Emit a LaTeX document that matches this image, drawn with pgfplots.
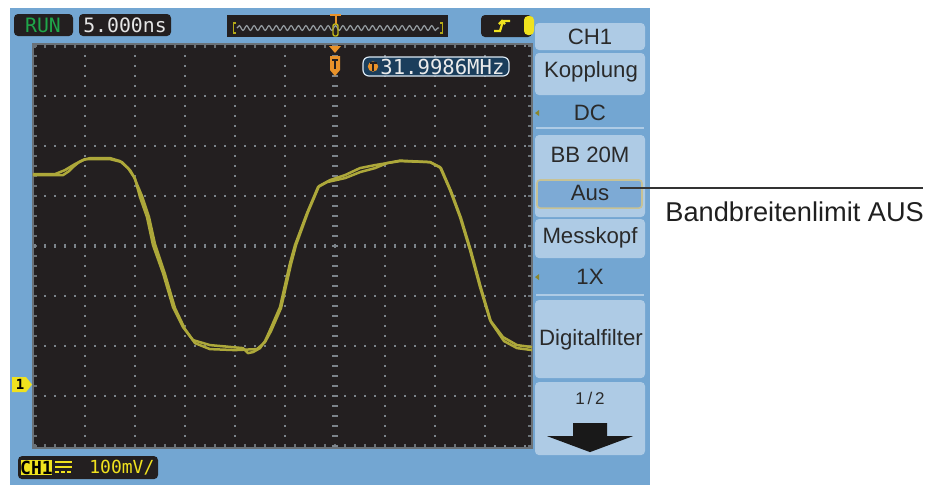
\documentclass[border=0pt]{standalone}
\usepackage{pgfplots}
\pgfplotsset{compat=1.18}
\usepackage{fontspec}
\setmainfont{Liberation Sans}
\newfontfamily\monofont{DejaVu Sans Mono}
\usetikzlibrary{decorations.pathmorphing}
\definecolor{scopeblue}{HTML}{73A6D2}
\definecolor{btnblue}{HTML}{AECBE5}
\definecolor{screenblack}{HTML}{231F20}
\definecolor{gridgray}{HTML}{7C848B}
\definecolor{edgegray}{HTML}{6A7177}
\definecolor{tracecol}{HTML}{ADA83A}
\definecolor{ryellow}{HTML}{F0E21E}
\definecolor{morange}{HTML}{E8922A}
\definecolor{rungreen}{HTML}{1FA64A}
\definecolor{freqbox}{HTML}{1B3E5C}
\definecolor{ausfill}{HTML}{7DAAD5}
\definecolor{ausborder}{HTML}{C7C295}
\definecolor{textgray}{HTML}{2A2A2A}
\newcommand\menufont{\fontsize{11.1}{12}\selectfont}
\newcommand\readfont{\monofont\fontsize{9.9}{11}\selectfont}
\begin{document}
\begin{tikzpicture}
% ---------- background (pixel coordinates) ----------
\begin{axis}[at={(0,0)}, anchor=south west, scale only axis,
  width=466.5pt, height=242.5pt, xmin=0, xmax=933, ymin=0, ymax=485,
  y dir=reverse, hide axis, clip=false]
\path (axis cs:0,0) rectangle (axis cs:933,485);
\fill[scopeblue] (axis cs:10,8) rectangle (axis cs:650,485);
\fill[screenblack] (axis cs:33,44) rectangle (axis cs:532,448);
% top bar
\fill[screenblack, rounded corners=2pt] (axis cs:14,14) rectangle (axis cs:73,36);
\node[text=rungreen, font=\readfont] at (axis cs:43,25) {RUN};
\fill[screenblack, rounded corners=2pt] (axis cs:79,14) rectangle (axis cs:171,36);
\node[text=white!90!black, font=\readfont] at (axis cs:125,25) {5.000ns};
\fill[screenblack] (axis cs:227,15) rectangle (axis cs:448,37);
\draw[gridgray!80!white, line width=0.6pt, decorate, decoration={snake, segment length=3.7pt, amplitude=1.2pt}] (axis cs:237,28) -- (axis cs:439,28);
\draw[ryellow!75!black, line width=0.8pt] (axis cs:236,23) -- (axis cs:233.5,23) -- (axis cs:233.5,33) -- (axis cs:236,33);
\draw[ryellow!75!black, line width=0.8pt] (axis cs:440,23) -- (axis cs:442.5,23) -- (axis cs:442.5,33) -- (axis cs:440,33);
\draw[morange, line width=1pt] (axis cs:330,15) -- (axis cs:341,15);
\draw[morange, line width=1pt] (axis cs:335.5,15) -- (axis cs:335.5,24);
\draw[ryellow!80!black, line width=0.7pt, rounded corners=1pt] (axis cs:333,24) rectangle (axis cs:338,36);
\fill[screenblack, rounded corners=2pt] (axis cs:481,15) rectangle (axis cs:532,37);
\draw[ryellow, line width=1.1pt] (axis cs:494,31) -- (axis cs:500,31) -- (axis cs:503,21) -- (axis cs:510,21);
\draw[ryellow, line width=1.1pt] (axis cs:499,24) -- (axis cs:502,21) -- (axis cs:505,24);
\fill[ryellow, rounded corners=2pt] (axis cs:524,16) rectangle (axis cs:534,35);
% menu
\fill[btnblue, rounded corners=2pt] (axis cs:535,23) rectangle (axis cs:645,50);
\node[text=textgray, font=\menufont] at (axis cs:590,37) {CH1};
\fill[btnblue, rounded corners=2pt] (axis cs:535,53) rectangle (axis cs:645,95);
\node[text=textgray, font=\menufont] at (axis cs:591,72) {Kopplung};
\fill[tracecol!80!black] (axis cs:535,113) -- (axis cs:539,110) -- (axis cs:539,116) -- cycle;
\node[text=textgray, font=\menufont] at (axis cs:590,113) {DC};
\draw[btnblue, line width=1pt] (axis cs:536,128) -- (axis cs:644,128);
\fill[btnblue, rounded corners=2pt] (axis cs:535,135) rectangle (axis cs:645,217);
\node[text=textgray, font=\menufont] at (axis cs:590,155) {BB 20M};
\filldraw[fill=ausfill, draw=ausborder, line width=0.8pt, rounded corners=1.5pt] (axis cs:537,180) rectangle (axis cs:642,208);
\node[text=textgray, font=\menufont] at (axis cs:590,193) {Aus};
\fill[btnblue, rounded corners=2pt] (axis cs:535,219) rectangle (axis cs:645,258);
\node[text=textgray, font=\menufont] at (axis cs:590,238) {Messkopf};
\fill[tracecol!80!black] (axis cs:535,277) -- (axis cs:539,274) -- (axis cs:539,280) -- cycle;
\node[text=textgray, font=\menufont] at (axis cs:590,277) {1X};
\draw[btnblue, line width=1pt] (axis cs:536,295) -- (axis cs:644,295);
\fill[btnblue, rounded corners=2pt] (axis cs:535,300) rectangle (axis cs:645,378);
\node[text=textgray, font=\menufont] at (axis cs:591,340) {Digitalfilter};
\fill[btnblue, rounded corners=2pt] (axis cs:535,382) rectangle (axis cs:645,455);
\node[text=textgray, font=\fontsize{8.5}{10}\selectfont] at (axis cs:590,398) {1\,/\,2};
\fill[black!90] (axis cs:573,423) -- (axis cs:607,423) -- (axis cs:607,436) -- (axis cs:633,436)
  -- (axis cs:590,452) -- (axis cs:547,436) -- (axis cs:573,436) -- cycle;
% annotation
\draw[black!80, line width=0.6pt] (axis cs:620,188) -- (axis cs:923,188);
\node[anchor=west, text=black!88, font=\fontsize{13.6}{15}\selectfont, inner sep=0pt] at (axis cs:665,212) {Bandbreitenlimit AUS};
% bottom readout
\fill[screenblack, rounded corners=2pt] (axis cs:18,456) rectangle (axis cs:158,479);
\fill[ryellow] (axis cs:21,460) rectangle (axis cs:52,475);
\node[text=black, font=\monofont\bfseries\fontsize{9}{10}\selectfont, inner sep=0pt] at (axis cs:36.5,467.5) {CH1};
\draw[ryellow, line width=1pt] (axis cs:55,462) -- (axis cs:72,462);
\draw[ryellow, line width=1pt] (axis cs:55,467) -- (axis cs:72,467);
\draw[ryellow, line width=1pt, dash pattern=on 2pt off 1pt] (axis cs:55,472) -- (axis cs:72,472);
\node[text=ryellow, font=\monofont\fontsize{9}{10}\selectfont, anchor=west, inner sep=0pt] at (axis cs:89,467.5) {100mV/};
% channel marker
\fill[ryellow] (axis cs:12,377) -- (axis cs:26,377) -- (axis cs:32,384.5) -- (axis cs:26,392) -- (axis cs:12,392) -- cycle;
\node[text=black, font=\monofont\bfseries\fontsize{7}{8}\selectfont, inner sep=0pt] at (axis cs:20,384.5) {1};
\end{axis}
% ---------- oscilloscope screen (ns, mV) ----------
\begin{axis}[at={(16.5pt,18.5pt)}, anchor=south west, scale only axis,
  width=249.5pt, height=202pt,
  xmin=-30.2, xmax=19.7, ymin=-404, ymax=404,
  xtick={-30,-25,...,15}, ytick={-400,-300,...,400},
  minor x tick num=4, minor y tick num=4,
  xticklabels={}, yticklabels={},
  grid=major,
  major grid style={gridgray, line width=1pt, dash pattern=on 0.9pt off 4.1pt, dash phase=4.5pt},
  tick style={edgegray, line width=0.7pt}, major tick length=2pt, minor tick length=2pt,
  axis line style={draw=edgegray, line width=1pt}]
\draw[gridgray, line width=2pt, dash pattern=on 0.7pt off 4.3pt] (axis cs:-30.07,0) -- (axis cs:19.7,0);
\draw[gridgray, line width=3pt, dash pattern=on 0.7pt off 4.3pt] (axis cs:0,-401.4) -- (axis cs:0,404);
\addplot[tracecol, line width=1.25pt, line join=round] coordinates {
(-30.2,142) (-27.2,142) (-26.6,150) (-26.2,158) (-25.6,168) (-25,174) (-22.5,174)
(-21.3,168) (-20.5,152) (-20,135) (-19.5,98) (-18.8,58) (-18.2,2) (-17.2,-54)
(-16.2,-122) (-15.2,-162) (-14.2,-188) (-12.5,-198) (-9.2,-204) (-8.7,-214)
(-8.2,-212) (-7.5,-204) (-7,-190) (-6.5,-168) (-5.5,-122) (-4.5,-34) (-4.0,2)
(-2.8,66) (-1.7,118) (-0.8,128) (1,136) (2.5,148) (4,156) (5.2,166) (6.5,170)
(9.5,168) (10.5,158) (11.5,112) (12.5,58) (13.5,-8) (14.5,-82) (15.5,-148)
(16.8,-182) (18.2,-198) (19.7,-202)};
\addplot[tracecol, line width=1.25pt, line join=round] coordinates {
(-30.2,144) (-28,144) (-27,152) (-26,164) (-25.2,172) (-24.5,176) (-22.5,176)
(-21.5,170) (-20.7,156) (-20.1,138) (-19.3,100) (-18.6,58) (-18,4) (-17,-56)
(-16,-124) (-15,-166) (-14,-194) (-12.5,-206) (-10,-208) (-7.8,-206) (-7,-192)
(-6.4,-170) (-5.4,-124) (-4.4,-36) (-3.9,2) (-2.7,68) (-1.6,120) (-0.5,132)
(1,142) (2.5,156) (4,162) (5.2,166) (6.5,171) (9.5,168) (10.6,156) (11.6,110)
(12.6,56) (13.6,-10) (14.6,-84) (15.6,-152) (16.9,-190) (18.2,-204) (19.7,-208)};
\end{axis}
% ---------- overlay (pixel coordinates) ----------
\begin{axis}[at={(0,0)}, anchor=south west, scale only axis,
  width=466.5pt, height=242.5pt, xmin=0, xmax=933, ymin=0, ymax=485,
  y dir=reverse, hide axis, clip=false]
\fill[morange] (axis cs:329,46) -- (axis cs:341,46) -- (axis cs:335,53) -- cycle;
\fill[morange] (axis cs:330,56) -- (axis cs:340,56) -- (axis cs:340,70) -- (axis cs:335,76) -- (axis cs:330,70) -- cycle;
\draw[screenblack, line width=0.8pt] (axis cs:332,60) -- (axis cs:338,60);
\draw[screenblack, line width=0.8pt] (axis cs:335,60) -- (axis cs:335,69);
\filldraw[fill=freqbox, draw=white!75!scopeblue, line width=0.6pt, rounded corners=3pt] (axis cs:363,57) rectangle (axis cs:509,76);
\fill[morange] (axis cs:373,66.5) circle[radius=2.6pt];
\draw[screenblack, line width=0.7pt] (axis cs:369.5,63) -- (axis cs:376.5,63);
\draw[screenblack, line width=0.7pt] (axis cs:373,63) -- (axis cs:373,71);
\node[text=white!92!black, font=\monofont\fontsize{10.3}{11}\selectfont, anchor=west, inner sep=0pt] at (axis cs:380,66.5) {31.9986MHz};
\end{axis}
\end{tikzpicture}
\end{document}
